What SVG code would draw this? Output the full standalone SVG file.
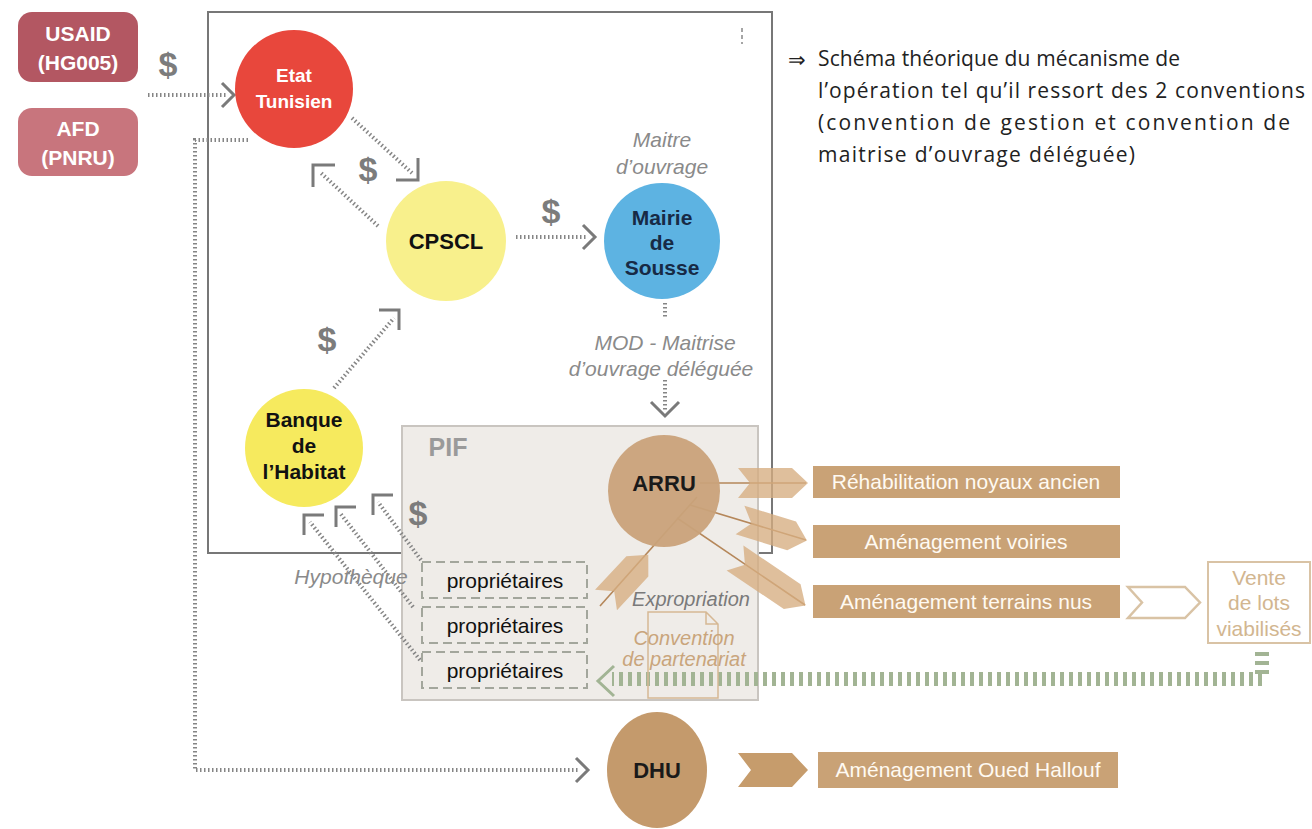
<svg xmlns="http://www.w3.org/2000/svg" width="1312" height="829" viewBox="0 0 1312 829">
<style>
.b{font-family:"Liberation Sans",Arial,sans-serif;font-weight:bold;text-anchor:middle}
.r{font-family:"Liberation Sans",Arial,sans-serif;text-anchor:middle}
.it{font-family:"Liberation Sans",Arial,sans-serif;font-style:italic;text-anchor:middle}
.dot{fill:none;stroke:#858585;stroke-width:4;stroke-dasharray:1.5 2.5}
.chev{fill:none;stroke:#7a7a7a;stroke-width:3;stroke-linejoin:miter}
.usd{font-family:"Liberation Sans",Arial,sans-serif;font-weight:bold;font-size:34px;fill:#7c7c7c;text-anchor:middle}
.tan{fill:#c9a276}
.fl{fill:#d6ad80;fill-opacity:0.78}
.thin{stroke:#b5875a;stroke-width:1.6;fill:none}
.lbl{font-family:"Liberation Sans",Arial,sans-serif;font-size:21px;fill:#fffaf2;text-anchor:middle}
.prop{fill:none;stroke:#a3a69c;stroke-width:2;stroke-dasharray:9 5}
.note{font-family:"Open Sans","Noto Sans",sans-serif;font-size:21px;fill:#222}
</style>
<rect width="1312" height="829" fill="#ffffff"/>

<g id="frame">
<rect x="208" y="12" width="564" height="541" fill="none" stroke="#777" stroke-width="2"/>
<line x1="742" y1="28" x2="742" y2="44" stroke="#888" stroke-width="1.5" stroke-dasharray="4 3"/>
</g>

<g id="pif">
<rect x="402" y="426" width="356" height="274" fill="#efece8" stroke="#c9c5c0" stroke-width="2"/>
<text x="448" y="456" class="b" font-size="25" fill="#9a9a9a">PIF</text>
</g>

<g id="note">
<text x="788" y="67" class="note" font-size="24">⇒</text>
<text x="818" y="66" class="note" textLength="362" lengthAdjust="spacing">Schéma théorique du mécanisme de</text>
<text x="818" y="98" class="note" textLength="487" lengthAdjust="spacing">l’opération tel qu’il ressort des 2 conventions</text>
<text x="818" y="130" class="note" textLength="472" lengthAdjust="spacing">(convention de gestion et convention de</text>
<text x="818" y="162" class="note" textLength="317" lengthAdjust="spacing">maitrise d’ouvrage déléguée)</text>
</g>

<g id="connectors">
<line class="dot" x1="148" y1="95" x2="228" y2="95"/>
<polyline class="chev" points="222,83 234,95 222,107"/>
<text class="usd" x="168" y="76">$</text>
<polyline class="dot" points="248,140 195,140 195,770 578,770"/>
<polyline class="chev" points="576,758 588,770 576,782"/>
<line class="dot" x1="352" y1="118" x2="412" y2="173"/>
<polyline class="chev" points="396,180 418,180 418,158"/>
<line class="dot" x1="378" y1="226" x2="320" y2="172"/>
<polyline class="chev" points="313,187 313,165 335,165"/>
<text class="usd" x="368" y="181">$</text>
<line class="dot" x1="516" y1="237" x2="586" y2="237"/>
<polyline class="chev" points="583,225 595,237 583,249"/>
<text class="usd" x="551" y="223">$</text>
<line class="dot" x1="334" y1="388" x2="394" y2="318"/>
<polyline class="chev" points="379,310 399,310 399,330"/>
<text class="usd" x="327" y="351">$</text>
<line class="dot" x1="665" y1="303" x2="665" y2="318"/>
<line class="dot" x1="665" y1="380" x2="665" y2="410"/>
<polyline class="chev" points="651,402 665,416 679,402"/>
<text class="it" x="665" y="350" font-size="21" fill="#8a8a8a">MOD - Maitrise</text>
<text class="it" x="661" y="376" font-size="21" fill="#8a8a8a">d’ouvrage déléguée</text>
<line class="dot" x1="421" y1="560" x2="378" y2="502"/>
<polyline class="chev" points="373,515 373,495 393,495"/>
<line class="dot" x1="413" y1="607" x2="340" y2="513"/>
<polyline class="chev" points="336,527 336,507 356,507"/>
<line class="dot" x1="420" y1="660" x2="310" y2="522"/>
<polyline class="chev" points="304,535 304,515 324,515"/>
<text class="usd" x="418" y="525">$</text>
<text class="it" x="351" y="584" font-size="21" fill="#8a8a8a">Hypothèque</text>
<polyline points="1262,652 1262,679 612,679" fill="none" stroke="#a2b494" stroke-width="14" stroke-dasharray="4 5"/>
<polyline points="614,666 598,681 614,696" fill="none" stroke="#a2b494" stroke-width="3"/>
<line class="thin" x1="700" y1="483" x2="806" y2="483"/>
<path class="fl" d="M0,-15 L54,-15 L70,0 L54,15 L0,15 L12,0 Z" transform="translate(738,483)"/>
<line class="thin" x1="690" y1="505" x2="806" y2="540"/>
<path class="fl" d="M0,-15 L54,-15 L70,0 L54,15 L0,15 L12,0 Z" transform="translate(740,520) rotate(17)"/>
<line class="thin" x1="677" y1="518" x2="805" y2="605"/>
<path class="fl" d="M0,-15 L69,-15 L85,0 L69,15 L0,15 L12,0 Z" transform="translate(735,558) rotate(34)"/>
<line class="thin" x1="697" y1="497" x2="600" y2="606"/>
<path class="fl" d="M0,-15 L46,-15 L62,0 L46,15 L0,15 L12,0 Z" transform="translate(606,600) rotate(-47)"/>
<path d="M1128,587 L1185,587 L1200,602.5 L1185,618 L1128,618 L1142,602.5 Z" fill="#fff" stroke="#d9c3a5" stroke-width="2.5"/>
<path d="M738,753 L792,753 L808,770 L792,787 L738,787 L751,770 Z" fill="#c69c6c"/>
</g>

<g id="usaid">
<rect x="18" y="12" width="120" height="70" rx="14" fill="#b35762"/>
<text class="b" x="78" y="41" font-size="21" fill="#fff">USAID</text>
<text class="b" x="78" y="70" font-size="21" fill="#fff">(HG005)</text>
</g>
<g id="afd">
<rect x="18" y="108" width="120" height="68" rx="14" fill="#c8757d"/>
<text class="b" x="78" y="136" font-size="21" fill="#fff">AFD</text>
<text class="b" x="78" y="165" font-size="21" fill="#fff">(PNRU)</text>
</g>
<g id="etat">
<circle cx="294" cy="89" r="59" fill="#e8473c"/>
<text class="b" x="294" y="82" font-size="19" fill="#fff">Etat</text>
<text class="b" x="294" y="108" font-size="19" fill="#fff">Tunisien</text>
</g>
<g id="cpscl">
<circle cx="446" cy="241" r="60" fill="#f8f08c"/>
<text class="b" x="446" y="249" font-size="22" fill="#111">CPSCL</text>
</g>
<g id="mairie">
<text class="it" x="662" y="147" font-size="21" fill="#8a8a8a">Maitre</text>
<text class="it" x="662" y="174" font-size="21" fill="#8a8a8a">d’ouvrage</text>
<circle cx="662" cy="241" r="58" fill="#5db3e2"/>
<text class="b" x="662" y="225" font-size="21" fill="#172a45">Mairie</text>
<text class="b" x="662" y="250" font-size="21" fill="#172a45">de</text>
<text class="b" x="662" y="275" font-size="21" fill="#172a45">Sousse</text>
</g>
<g id="banque">
<circle cx="304" cy="448" r="59" fill="#f6ea5e"/>
<text class="b" x="304" y="427" font-size="21" fill="#111">Banque</text>
<text class="b" x="304" y="453" font-size="21" fill="#111">de</text>
<text class="b" x="304" y="479" font-size="21" fill="#111">l’Habitat</text>
</g>
<g id="arru">
<circle cx="664" cy="491" r="56" fill="#c9a27a" fill-opacity="0.95"/>
<text class="b" x="664" y="491" font-size="22" fill="#1a1a1a">ARRU</text>
</g>
<g id="proprietaires">
<rect class="prop" x="422" y="562" width="165" height="36"/>
<text class="r" x="505" y="588" font-size="21" fill="#111">propriétaires</text>
<rect class="prop" x="422" y="607" width="165" height="36"/>
<text class="r" x="505" y="633" font-size="21" fill="#111">propriétaires</text>
<rect class="prop" x="422" y="652" width="165" height="36"/>
<text class="r" x="505" y="678" font-size="21" fill="#111">propriétaires</text>
</g>
<g id="convention">
<path d="M648,698 L648,612 L706,612 L718,624 L718,698 Z M706,612 L706,624 L718,624" fill="none" stroke="#d6b894" stroke-width="1.5"/>
<text class="it" x="691" y="606" font-size="20" fill="#7a7a7a">Expropriation</text>
<text class="it" x="684" y="645" font-size="20" fill="#c9a57c">Convention</text>
<text class="it" x="684" y="666" font-size="20" fill="#c9a57c">de partenariat</text>
</g>
<g id="rehab">
<rect x="813" y="466" width="307" height="32" class="tan"/>
<text class="lbl" x="966" y="489">Réhabilitation noyaux ancien</text>
</g>
<g id="voiries">
<rect x="813" y="525" width="307" height="33" class="tan"/>
<text class="lbl" x="966" y="549">Aménagement voiries</text>
</g>
<g id="terrains">
<rect x="813" y="585" width="307" height="33" class="tan"/>
<text class="lbl" x="966" y="609">Aménagement terrains nus</text>
</g>
<g id="vente">
<rect x="1208" y="562" width="102" height="81" fill="#fff" stroke="#d9c3a5" stroke-width="2"/>
<text class="r" x="1259" y="585" font-size="21" fill="#d2b690">Vente</text>
<text class="r" x="1259" y="610" font-size="21" fill="#d2b690">de lots</text>
<text class="r" x="1259" y="636" font-size="21" fill="#d2b690">viabilisés</text>
</g>
<g id="dhu">
<ellipse cx="657" cy="770" rx="50" ry="58" fill="#c49a6c"/>
<text class="b" x="657" y="778" font-size="22" fill="#1a1a1a">DHU</text>
</g>
<g id="oued">
<rect x="818" y="752" width="300" height="36" class="tan"/>
<text class="lbl" x="968" y="777">Aménagement Oued Hallouf</text>
</g>
</svg>
